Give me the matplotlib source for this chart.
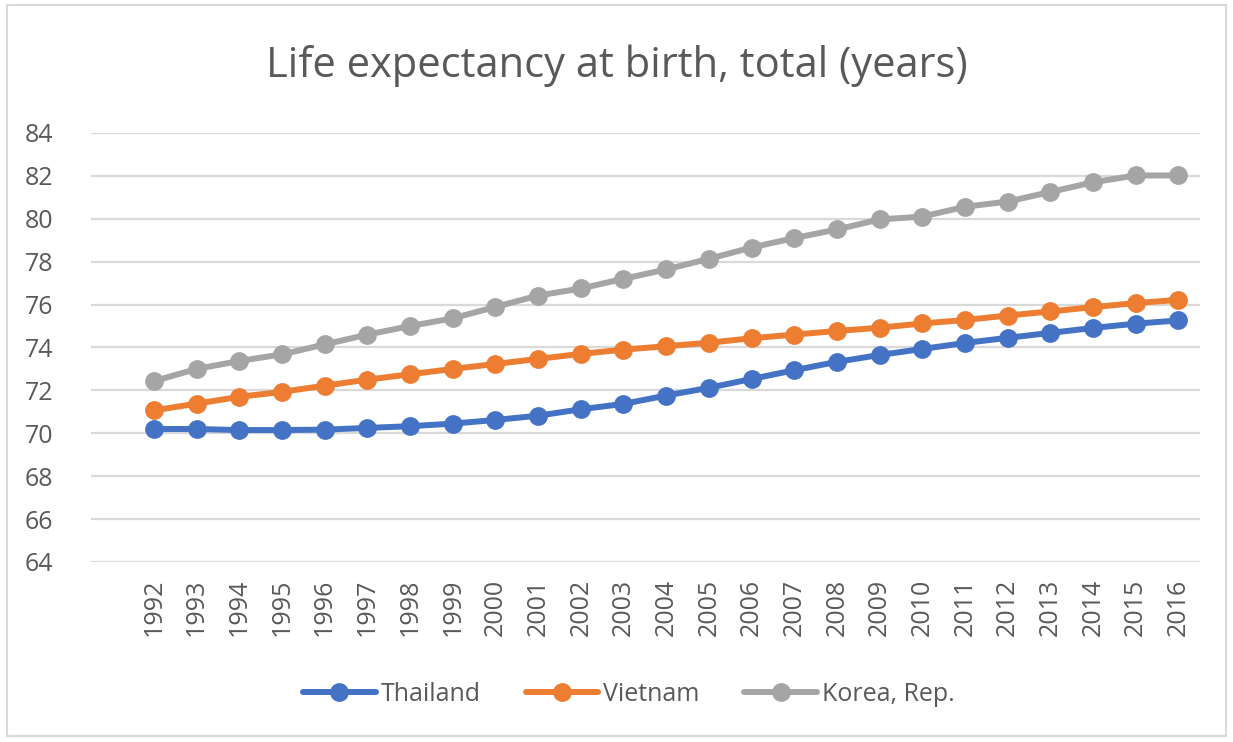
import matplotlib
matplotlib.use("Agg")
import matplotlib.pyplot as plt
from matplotlib.patches import Rectangle

years = [str(y) for y in range(1992, 2017)]
thailand = [70.2, 70.2, 70.15, 70.15, 70.17, 70.25, 70.33, 70.45, 70.62, 70.82, 71.12, 71.37,
            71.76, 72.12, 72.53, 72.94, 73.33, 73.65, 73.93, 74.21, 74.45, 74.68, 74.91, 75.11, 75.26]
vietnam = [71.07, 71.38, 71.7, 71.93, 72.22, 72.5, 72.75, 73.0, 73.23, 73.47, 73.7, 73.9,
           74.06, 74.22, 74.43, 74.6, 74.77, 74.92, 75.12, 75.28, 75.49, 75.68, 75.88, 76.07, 76.22]
korea = [72.43, 73.0, 73.37, 73.68, 74.14, 74.6, 75.0, 75.36, 75.89, 76.42, 76.75, 77.2,
         77.64, 78.13, 78.66, 79.1, 79.5, 79.97, 80.1, 80.56, 80.8, 81.25, 81.7, 82.02, 82.02]
series = [("Thailand", thailand, "#4472C4"),
          ("Vietnam", vietnam, "#ED7D31"),
          ("Korea, Rep.", korea, "#A5A5A5")]
yticks = list(range(64, 85, 2))

plt.rcParams['font.family'] = ['Open Sans', 'DejaVu Sans']
text_color = "#595959"

fig = plt.figure(figsize=(12.33, 7.42), dpi=100)
fig.patches.append(Rectangle((0.006, 0.008), 0.988, 0.985, transform=fig.transFigure,
                             fill=False, edgecolor="#D9D9D9", linewidth=1.5))
ax = fig.add_axes([0.0736, 0.2426, 0.8994, 0.5782])

x = list(range(len(years)))
for name, vals, col in series:
    ax.plot(x, vals, color=col, linewidth=4.3, marker='o', markersize=12.5,
            label=name, solid_capstyle='round')

ax.set_ylim(64, 84)
ax.set_yticks(yticks)
ax.set_xlim(-1.48, 24.5)
ax.set_xticks(x)
ax.set_xticklabels(years, rotation=90)
ax.tick_params(axis='both', length=0, labelsize=18, labelcolor=text_color)
ax.tick_params(axis='y', pad=27)
ax.tick_params(axis='x', pad=12)
ax.grid(axis='y', color="#D9D9D9", linewidth=1.6)
ax.set_axisbelow(True)
for s in ax.spines.values():
    s.set_visible(False)

fig.text(0.5, 0.912, "Life expectancy at birth, total (years)", ha='center', va='center',
         fontsize=30, color=text_color)

leg = fig.legend(loc='center', bbox_to_anchor=(0.51, 0.064), ncol=3, frameon=False,
                 fontsize=18, handlelength=2.9, handletextpad=0.2, columnspacing=1.8)
for t in leg.get_texts():
    t.set_color(text_color)

fig.savefig("out.png", dpi=100)
